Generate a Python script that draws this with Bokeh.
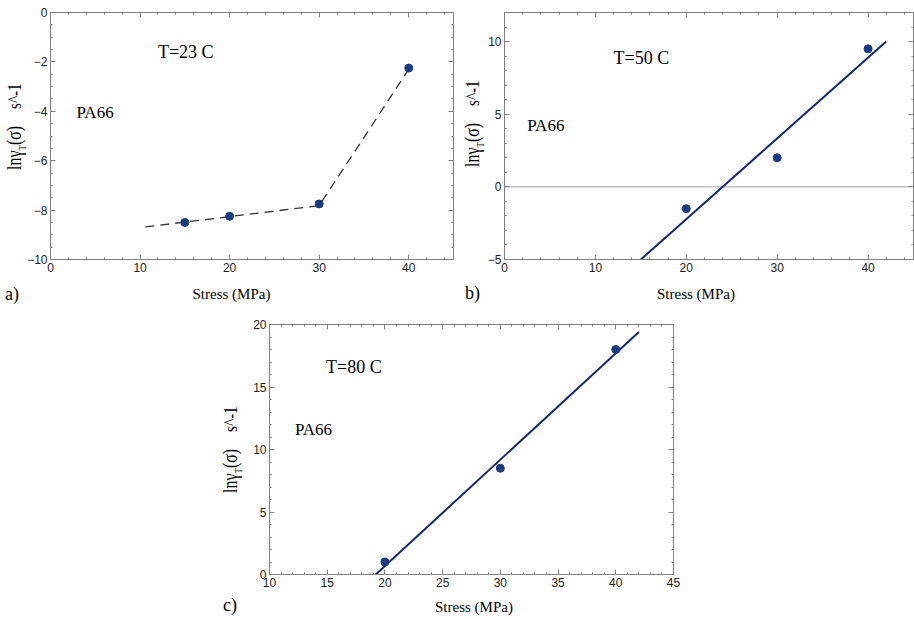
from bokeh.plotting import figure
from bokeh.models import Label, Range1d, FixedTicker, Spacer, Div, LinearAxis
from bokeh.layouts import column, row
from bokeh.embed import file_html
from bokeh.resources import INLINE

# ---------------- data ----------------
# Panel a: T = 23 C
stress_a = [15, 20, 30, 40]
ln_a = [-8.5, -8.25, -7.75, -2.25]
trend_x_a = [10.6, 30, 40]
trend_y_a = [-8.68, -7.82, -2.3]

# Panel b: T = 50 C
stress_b = [20, 30, 40]
ln_b = [-1.5, 2.0, 9.5]
fit_x_b = [15, 42]
fit_y_b = [-5, 10]

# Panel c: T = 80 C
stress_c = [20, 30, 40]
ln_c = [1.0, 8.5, 18.0]
fit_x_c = [19.2, 42]
fit_y_c = [0, 19.4]

xticks_ab = [0, 10, 20, 30, 40]
yticks_a = [-10, -8, -6, -4, -2, 0]
yticks_b = [-5, 0, 5, 10]
xticks_c = [10, 15, 20, 25, 30, 35, 40, 45]
yticks_c = [0, 5, 10, 15, 20]

titles = ["T=23 C", "T=50 C", "T=80 C"]
material = "PA66"
xlabel = "Stress (MPa)"
panel_tags = ["a)", "b)", "c)"]

# ---------------- style ----------------
SERIF = "Liberation Serif"
SANS = "Liberation Sans"
FRAME = "#808080"
MARK = "#1c3a82"
LINE = "#15286c"


def minor(lo, hi, step):
    n = int(round((hi - lo) / step))
    return [lo + i * step for i in range(n + 1)]


def style_ticks(ax, ticks, mt):
    ax.ticker = FixedTicker(ticks=ticks, minor_ticks=mt)
    ax.major_tick_line_color = FRAME
    ax.minor_tick_line_color = FRAME
    ax.major_tick_in = 5
    ax.major_tick_out = 0
    ax.minor_tick_in = 2
    ax.minor_tick_out = 0


def make_fig(w, h, xr, yr, bl, br, bt, bb, xt, yt, xminor, yminor):
    p = figure(width=w, height=h, x_range=Range1d(*xr), y_range=Range1d(*yr),
               output_backend="svg", toolbar_location=None,
               min_border_left=bl, min_border_right=br,
               min_border_top=bt, min_border_bottom=bb,
               background_fill_color="white", border_fill_color="white")
    p.grid.visible = False
    p.outline_line_color = FRAME
    p.outline_line_width = 1
    for ax, ticks, mt in ((p.xaxis[0], xt, xminor), (p.yaxis[0], yt, yminor)):
        style_ticks(ax, ticks, mt)
        ax.axis_line_color = FRAME
        ax.major_label_text_font = SANS
        ax.major_label_text_font_size = "12px"
        ax.major_label_text_color = "#222222"
        ax.major_label_standoff = 3
    # tick marks along the top and right edges of the frame (no labels)
    for side, ticks, mt in (("right", yt, yminor), ("above", xt, xminor)):
        ax = LinearAxis()
        style_ticks(ax, ticks, mt)
        ax.axis_line_color = None
        ax.major_label_text_color = None
        ax.major_label_standoff = 0
        p.add_layout(ax, side)
    return p


def dlabel(p, text, x, y, size):
    p.add_layout(Label(x=x, y=y, text=text, text_font=SERIF, text_font_size=size,
                       text_align="left", text_baseline="middle", text_color="black"))


def page_text(html, left, top, width=None, align="left", transform=None):
    st = {"position": "absolute", "left": f"{left}px", "top": f"{top}px",
          "white-space": "nowrap", "margin": "0", "padding": "0",
          "line-height": "1", "color": "black", "text-align": align,
          "font-family": f"'{SERIF}'"}
    if width is not None:
        st["width"] = f"{width}px"
    if transform is not None:
        st["transform"] = transform
        st["transform-origin"] = "0 0"
    return Div(text=html, styles=st)


def serif_span(text, size):
    return f"<span style=\"font-family:'{SERIF}';font-size:{size}px\">{text}</span>"


def ylabel_html():
    return (f"<span style=\"font-family:'{SERIF}';font-size:20px\">lnγ"
            f"<sub style=\"font-size:11px\">T</sub>(σ)</span>"
            f"<span style=\"font-family:'{SERIF}';font-size:19px;margin-left:21px\">s^-1</span>")


YROT = "rotate(-90deg) scaleX(0.8)"

# ---------------- panel a ----------------
pa = make_fig(460, 305, (0, 45), (-10, 0), 50, 7, 12, 43,
              xticks_ab, yticks_a, minor(0, 45, 2), minor(-10, 0, 0.5))
pa.line(trend_x_a, trend_y_a, line_color="#333333", line_width=1.3, line_dash="9 6")
pa.scatter(stress_a, ln_a, size=8, fill_color=MARK, line_color=MARK)
dlabel(pa, titles[0], 12, -1.6, "18px")
dlabel(pa, material, 2.9, -4.05, "17px")

# ---------------- panel b ----------------
pb = make_fig(454, 305, (0, 45), (-5, 12), 44, 1, 6, 46,
              xticks_ab, yticks_b, minor(0, 45, 2), minor(-5, 12, 1))
pb.line([0, 45], [0, 0], line_color="#a0a0a0", line_width=1)
pb.line(fit_x_b, fit_y_b, line_color=LINE, line_width=2)
pb.scatter(stress_b, ln_b, size=8, fill_color=MARK, line_color=MARK)
dlabel(pb, titles[1], 12, 8.86, "18px")
dlabel(pb, material, 2.5, 4.2, "17px")

# ---------------- panel c ----------------
pc = make_fig(460, 314, (10, 45), (0, 20), 49, 7, 19, 45,
              xticks_c, yticks_c, minor(10, 45, 1), minor(0, 20, 1))
pc.line(fit_x_c, fit_y_c, line_color=LINE, line_width=2)
pc.scatter(stress_c, ln_c, size=8, fill_color=MARK, line_color=MARK)
dlabel(pc, titles[2], 14.9, 16.6, "18px")
dlabel(pc, material, 12.2, 11.6, "17px")

# ---------------- texts outside the plotting frames ----------------
texts = [
    # y axis titles (rotated)
    page_text(ylabel_html(), 4, 170, transform=YROT),
    page_text(ylabel_html(), 462, 167, transform=YROT),
    page_text(ylabel_html(), 220, 493, transform=YROT),
    # x axis titles
    page_text(serif_span(xlabel, 15), 131.5, 287, width=200, align="center"),
    page_text(serif_span(xlabel, 15), 596, 287, width=200, align="center"),
    page_text(serif_span(xlabel, 15), 374, 600, width=200, align="center"),
    # panel tags
    page_text(serif_span(panel_tags[0], 18), 5, 285),
    page_text(serif_span(panel_tags[1], 18), 465, 284),
    page_text(serif_span(panel_tags[2], 18), 223, 596),
]

layout = column(row(pa, pb), row(Spacer(width=220, height=314), pc), *texts)

open("out.html", "w").write(file_html(layout, INLINE))
